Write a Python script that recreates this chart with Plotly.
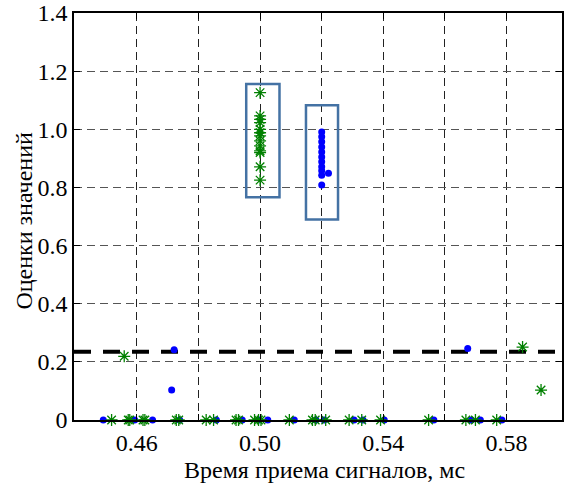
import plotly.graph_objects as go

# ---- data ----
threshold = 0.235

green_cluster_x = [0.500] * 13
green_cluster_y = [1.126, 1.046, 1.034, 1.023, 1.000, 0.988, 0.977, 0.960, 0.943, 0.926, 0.920, 0.871, 0.825]

blue_cluster_x = [0.520] * 10 + [0.5222, 0.520]
blue_cluster_y = [0.991, 0.974, 0.957, 0.939, 0.922, 0.905, 0.888, 0.871, 0.857, 0.842, 0.849, 0.808]

blue_zero_x = [0.4491, 0.4593, 0.4651, 0.4739, 0.4858, 0.4942, 0.4996, 0.5025, 0.5111,
               0.5181, 0.5208, 0.5305, 0.5334, 0.5403, 0.5564, 0.5686, 0.5715, 0.5785]
green_zero_x = [0.4518, 0.4572, 0.4577, 0.4620, 0.4626, 0.4728, 0.4736, 0.4825, 0.4849,
                0.4922, 0.4930, 0.4982, 0.4995, 0.5003, 0.5095, 0.5170, 0.5179, 0.5213,
                0.5289, 0.5330, 0.5391, 0.5547, 0.5668, 0.5699, 0.5768]

blue_other_x = [0.4713, 0.4721, 0.5674]
blue_other_y = [0.103, 0.242, 0.246]
green_other_x = [0.4559, 0.5852, 0.5912]
green_other_y = [0.219, 0.251, 0.103]

# boxes: (x0, x1, y0, y1)
green_box = (0.4955, 0.5063, 0.766, 1.156)
blue_box = (0.5149, 0.5253, 0.690, 1.083)

x_range = [0.4396, 0.598]
y_range = [0.0, 1.4]
x_tickvals = [0.46, 0.48, 0.50, 0.52, 0.54, 0.56, 0.58]
x_ticktext = ["0.46", "", "0.50", "", "0.54", "", "0.58"]
y_tickvals = [0, 0.2, 0.4, 0.6, 0.8, 1.0, 1.2, 1.4]
y_ticktext = ["0", "0.2", "0.4", "0.6", "0.8", "1.0", "1.2", "1.4"]

x_title = "Время приема сигналов, мс"
y_title = "Оценки значений"

FONT = "Liberation Serif, Times New Roman, serif"
BLUE = "#0000ff"
GREEN = "#008000"
BOXC = "#4472a4"

fig = go.Figure()

fig.add_trace(go.Scatter(x=x_range, y=[threshold, threshold], mode="lines",
                         line=dict(color="black", width=4, dash="17px,12px"),
                         hoverinfo="skip"))

blue_x = blue_zero_x + blue_other_x + blue_cluster_x
blue_y = [0] * len(blue_zero_x) + blue_other_y + blue_cluster_y
green_x = green_zero_x + green_other_x + green_cluster_x
green_y = [0] * len(green_zero_x) + green_other_y + green_cluster_y

fig.add_trace(go.Scatter(x=blue_x, y=blue_y, mode="markers", cliponaxis=False,
                         marker=dict(symbol="circle", size=7, color=BLUE)))
fig.add_trace(go.Scatter(x=green_x, y=green_y, mode="markers", cliponaxis=False,
                         marker=dict(symbol="asterisk-open", size=10, color=GREEN,
                                     line=dict(color=GREEN, width=1.3))))

for (x0, x1, y0, y1) in (green_box, blue_box):
    fig.add_shape(type="rect", xref="x", yref="y", x0=x0, x1=x1, y0=y0, y1=y1,
                  line=dict(color=BOXC, width=2.5))

tf = dict(family=FONT, size=24, color="black")

fig.update_layout(
    width=564, height=483,
    margin=dict(l=74, r=0, t=13, b=63),
    paper_bgcolor="white", plot_bgcolor="white",
    showlegend=False,
    font=tf,
    xaxis=dict(range=x_range, tickvals=x_tickvals, ticktext=x_ticktext,
               showgrid=True, gridcolor="#222222", griddash="8px,5px", gridwidth=1,
               ticks="inside", ticklen=6, tickcolor="black",
               showline=True, linecolor="black", linewidth=1.5, mirror="ticks",
               zeroline=False, tickfont=tf),
    yaxis=dict(range=y_range, tickvals=y_tickvals, ticktext=y_ticktext,
               showgrid=True, gridcolor="#555555", griddash="8px,5px", gridwidth=1,
               ticks="inside", ticklen=6, tickcolor="black",
               showline=True, linecolor="black", linewidth=1.5, mirror="ticks",
               zeroline=False, tickfont=tf),
    annotations=[
        dict(text=x_title, xref="paper", yref="paper", x=0.514, y=0, yshift=-50,
             showarrow=False, xanchor="center", yanchor="middle", font=tf),
        dict(text=y_title, xref="paper", yref="paper", x=0, xshift=-50, y=0.49,
             showarrow=False, textangle=-90, xanchor="center", yanchor="middle",
             font=tf),
    ],
)

fig.write_html("out.html", config={"displayModeBar": False},
               post_script="document.body.style.margin='0px';")
